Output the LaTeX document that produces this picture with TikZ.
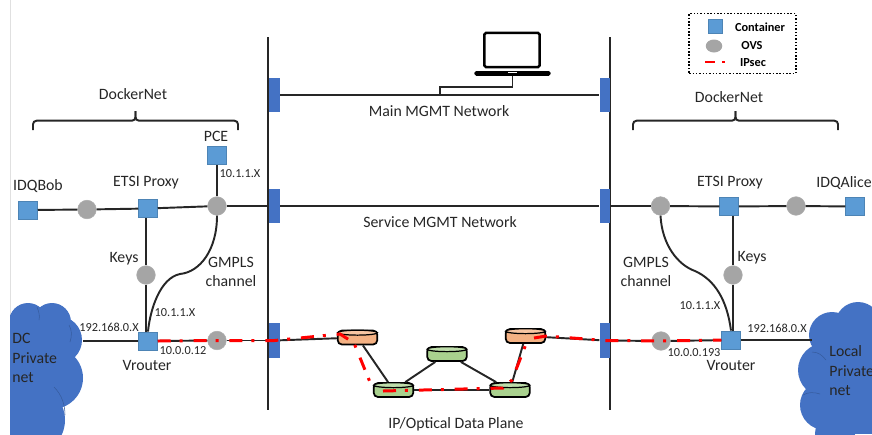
\documentclass[tikz,border=0pt]{standalone}
\usepackage{fontspec}
\setmainfont{Carlito}
\usetikzlibrary{shapes.geometric}
\definecolor{boxblue}{HTML}{5B9BD5}
\definecolor{barblue}{HTML}{4472C4}
\definecolor{ovsgrey}{HTML}{A5A5A5}
\definecolor{routerorange}{HTML}{F4B183}
\definecolor{routergreen}{HTML}{A9D18E}
\definecolor{inktext}{HTML}{262626}
\tikzset{
  wire/.style={line width=1.1pt, black!85},
  container/.style={rectangle, fill=boxblue, draw=boxblue!85!black, line width=0.3pt, minimum width=10.8pt, minimum height=10.4pt, inner sep=0pt},
  ovs/.style={circle, fill=ovsgrey, draw=ovsgrey!90!white, line width=0.3pt, minimum size=10.6pt, inner sep=0pt},
  mgmtbar/.style={rectangle, fill=barblue, minimum width=6pt, minimum height=19.8pt, inner sep=0pt},
  label/.style={inner sep=0pt, text=inktext, font=\fontsize{9}{11}\selectfont},
  small/.style={inner sep=0pt, text=inktext, font=\fontsize{7}{8}\selectfont},
  legendtext/.style={inner sep=0pt, font=\bfseries\fontsize{7}{8}\selectfont},
  ipsec/.style={red, line width=1.7pt, dash pattern=on 7.4pt off 5.1pt on 1.7pt off 6.2pt},
  routerbody/.style={rectangle, rounded corners=2.5pt, draw=black, line width=1pt, fill=#1, minimum width=22.6pt, minimum height=8pt, inner sep=0pt},
  routertop/.style={ellipse, draw=black, line width=0.7pt, fill=#1!75!white, minimum width=22.6pt, minimum height=2.8pt, inner sep=0pt, anchor=north},
  bracket/.style={line width=1.1pt, black!85, rounded corners=2pt},
  cloudarc/.style={barblue!80!black, line width=0.3pt},
}
\newcommand{\routerdisc}[3]{
  \node[routerbody=#3] (#1) at (#2) {};
  \node[routertop=#3] (#1top) at (#1.north) {};
}
\begin{document}
\begin{tikzpicture}[x=0.02cm, y=-0.02cm]
            \useasboundingbox (0,0) rectangle (872,434);

            \coordinate (edgeA) at (10,0);
            \coordinate (edgeB) at (10,434);
            \draw[black!12, line width=0.4pt] (edgeA) -- (edgeB);

            \begin{scope}
            \clip (10,290) rectangle (872,434);
            \fill[barblue] (28,322) circle (19) (52,322) circle (19) (58,340) circle (24) (52,378) circle (31) (30,420) circle (35);
            \fill[barblue] (10,315) rectangle (50,434);
            \fill[barblue] (858,325) circle (23) (832,335) circle (23) (825,370) circle (27) (825,405) circle (25) (835,434) circle (20);
            \fill[barblue] (830,320) rectangle (872,434);
            \draw[cloudarc] (54,387) .. controls (62,395) and (65,405) .. (65,415);
            \draw[cloudarc] (37,307) .. controls (39,312) and (40,316) .. (39,320);
            \draw[cloudarc] (69,325) .. controls (72,330) and (72,336) .. (70,342);
            \draw[cloudarc] (812,352) .. controls (818,352) and (822,355) .. (826,360);
            \draw[cloudarc] (803,395) .. controls (808,392) and (814,392) .. (820,394);
            \end{scope}

            \coordinate (topL) at (268,37);
            \coordinate (botL) at (268,410);
            \coordinate (topR) at (610,37);
            \coordinate (botR) at (610,410);
            \draw[wire] (topL) -- (botL);
            \draw[wire] (topR) -- (botR);

            \node[mgmtbar] (barML) at (274.5,95) {};
            \node[mgmtbar] (barSL) at (274.5,206) {};
            \node[mgmtbar] (barDL) at (274.5,340.5) {};
            \node[mgmtbar] (barMR) at (605,95) {};
            \node[mgmtbar] (barSR) at (605,206) {};
            \node[mgmtbar] (barDR) at (605,340.5) {};

            \node[rectangle, draw=black, line width=1.4pt, rounded corners=1pt, minimum width=31.5pt, minimum height=19.5pt, inner sep=0pt] (screen) at (512,50) {};
            \node[rectangle, fill=black, rounded corners=1pt, minimum width=43.5pt, minimum height=2.7pt, inner sep=0pt] (base) at (512.5,73.4) {};
            \node[rectangle, fill=white, minimum width=5.6pt, minimum height=1pt, inner sep=0pt] (notch) at (512.5,72.4) {};
            \coordinate (drop) at (440,87);
            \coordinate (joint) at (440,95);
            \draw[wire] (barML) -- (barMR);
            \draw[wire, line width=0.9pt] (base.south) |- (drop) -- (joint);
            \draw[wire] (barSL) -- (barSR);

            \node[container] (bob) at (28,210) {};
            \node[ovs] (ovsBob) at (87,209.5) {};
            \node[container] (proxyL) at (148,208.5) {};
            \node[ovs] (ovsSL) at (217,206) {};
            \node[container] (pce) at (217,155.5) {};
            \node[ovs] (ovsKeyL) at (146,275) {};
            \node[container] (vrouterL) at (148,341) {};
            \node[ovs] (ovsDL) at (217,340.5) {};

            \draw[wire] (bob) -- (ovsBob);
            \draw[wire] (ovsBob) -- (proxyL);
            \draw[wire] (proxyL) -- (ovsSL);
            \draw[wire] (ovsSL) -- (barSL);
            \draw[wire] (pce) -- (ovsSL);
            \draw[wire] (proxyL.south -| ovsKeyL) -- (ovsKeyL);
            \draw[wire] (ovsKeyL) -- (ovsKeyL |- vrouterL.north);
            \draw[wire] (ovsSL.south) .. controls (217,250) and (200,272) .. (180,274) .. controls (160,278) and (150,310) .. (vrouterL.north);

            \node[ovs] (ovsAlice) at (796,206) {};
            \node[container] (alice) at (855,206.5) {};
            \node[container] (proxyR) at (729,206.5) {};
            \node[ovs] (ovsSR) at (660.5,206) {};
            \node[ovs] (ovsKeyR) at (733,275) {};
            \node[container] (vrouterR) at (731,340) {};
            \node[ovs] (ovsDR) at (661,341) {};

            \draw[wire] (alice) -- (ovsAlice);
            \draw[wire] (ovsAlice) -- (proxyR);
            \draw[wire] (proxyR) -- (ovsSR);
            \draw[wire] (ovsSR) -- (barSR);
            \draw[wire] (proxyR.south -| ovsKeyR) -- (ovsKeyR);
            \draw[wire] (ovsKeyR) -- (ovsKeyR |- vrouterR.north);
            \draw[wire] (ovsSR.south) .. controls (662,245) and (678,265) .. (695,271) .. controls (715,280) and (727,300) .. (vrouterR.north);

            \coordinate (cloudL) at (83,341);
            \coordinate (cloudR) at (812,340);
            \draw[wire] (cloudL) -- (vrouterL);
            \draw[wire] (vrouterR) -- (cloudR);

            \routerdisc{orangeL}{357.5,337.5}{routerorange}
            \routerdisc{orangeR}{525.5,336}{routerorange}
            \routerdisc{greenC}{447,354}{routergreen}
            \routerdisc{greenL}{393.5,390}{routergreen}
            \routerdisc{greenR}{510,390}{routergreen}

            \draw[wire] (vrouterL) -- (ovsDL);
            \draw[wire] (ovsDL) -- (barDL);
            \draw[wire] (barDL) -- (orangeL);
            \draw[wire] (orangeL) -- (greenL);
            \draw[wire] (greenL) -- (greenC);
            \draw[wire] (greenC) -- (greenR);
            \draw[wire] (greenL) -- (greenR);
            \draw[wire] (greenR) -- (orangeR);
            \draw[wire] (orangeR) -- (barDR);
            \draw[wire] (barDR) -- (ovsDR);
            \draw[wire] (ovsDR) -- (vrouterR);

            \coordinate (ipsecA) at (340,334);
            \coordinate (ipsecB) at (354,343);
            \coordinate (ipsecC) at (372,387);
            \coordinate (ipsecD) at (383,391);
            \coordinate (ipsecE) at (503,388);
            \coordinate (ipsecF) at (512,380);
            \coordinate (ipsecG) at (526,344);
            \coordinate (ipsecH) at (534,338);
            \draw[ipsec] (vrouterL.east) -- (ovsDL.center) -- (barDL.center) -- (ipsecA) -- (ipsecB) -- (ipsecC);
            \draw[ipsec] (ipsecD) -- (ipsecE) -- (ipsecF) -- (ipsecG);
            \draw[ipsec] (ipsecH) -- (orangeR.east) -- (barDR.center) -- (ovsDR.center) -- (vrouterR.west);

            \coordinate (braceLa) at (33,130);
            \coordinate (braceLb) at (238,130);
            \coordinate (braceLm) at (135.5,120.7);
            \coordinate (braceLt) at (135.5,111);
            \coordinate (braceRa) at (633,130);
            \coordinate (braceRb) at (838,130);
            \coordinate (braceRm) at (735.5,120.7);
            \coordinate (braceRt) at (735.5,111);
            \draw[bracket] (braceLa) |- (braceLm) -- (braceLt);
            \draw[bracket] (braceLb) |- (braceLm) -- (braceLt);
            \draw[bracket] (braceRa) |- (braceRm) -- (braceRt);
            \draw[bracket] (braceRb) |- (braceRm) -- (braceRt);

            \node[label] (dockerL) at (133,94) {DockerNet};
            \node[label] (dockerR) at (729,97) {DockerNet};
            \node[label] (pceText) at (216,136) {PCE};
            \node[label] (bobText) at (38,186) {IDQBob};
            \node[label] (proxyLText) at (146,183) {ETSI Proxy};
            \node[label] (proxyRText) at (730,183) {ETSI Proxy};
            \node[label] (aliceText) at (844,183) {IDQAlice};
            \node[label] (keysL) at (124,259) {Keys};
            \node[label] (keysR) at (752,258) {Keys};
            \node[label, align=center] (gmplsL) at (231,272) {GMPLS\\channel};
            \node[label, align=center] (gmplsR) at (646,272) {GMPLS\\channel};
            \node[label] (vrouterLText) at (147,365) {Vrouter};
            \node[label] (vrouterRText) at (731,365) {Vrouter};
            \node[label, anchor=west] (dcText) at (12,338) {DC};
            \node[label, anchor=west] (dcText2) at (12,358) {Private};
            \node[label, anchor=west] (dcText3) at (12,378) {net};
            \node[label, anchor=west] (localText) at (829,351) {Local};
            \node[label, anchor=west] (localText2) at (829,371) {Private};
            \node[label, anchor=west] (localText3) at (829,391) {net};
            \node[label] (mainText) at (439,111) {Main MGMT Network};
            \node[label] (serviceText) at (440,222) {Service MGMT Network};
            \node[label] (planeText) at (456,424) {IP/Optical Data Plane};

            \node[small] (ipPce) at (240,174) {10.1.1.X};
            \node[small] (ipChanL) at (175,313) {10.1.1.X};
            \node[small] (ipChanR) at (700,306) {10.1.1.X};
            \node[small] (ipLanL) at (109,327) {192.168.0.X};
            \node[small] (ipLanR) at (777,328) {192.168.0.X};
            \node[small] (ipDataL) at (183,351) {10.0.0.12};
            \node[small] (ipDataR) at (694,353) {10.0.0.193};

            \node[rectangle, draw=black, densely dotted, line width=0.9pt, minimum width=60.7pt, minimum height=34pt, inner sep=0pt] (legend) at (742.5,43.5) {};
            \node[container, minimum width=8pt, minimum height=8pt] (keyBox) at (715,26) {};
            \node[ellipse, fill=ovsgrey, minimum width=9.4pt, minimum height=7.4pt, inner sep=0pt] (keyOvs) at (714,46) {};
            \coordinate (keyA) at (705,62);
            \coordinate (keyB) at (726,62);
            \draw[red, line width=1.3pt, dash pattern=on 5.7pt off 4pt on 1.7pt off 4pt] (keyA) -- (keyB);
            \node[legendtext] (keyBoxText) at (760,27) {Container};
            \node[legendtext] (keyOvsText) at (752,46) {OVS};
            \node[legendtext] (keyIpsecText) at (753,63) {IPsec};
        \end{tikzpicture}
\end{document}
